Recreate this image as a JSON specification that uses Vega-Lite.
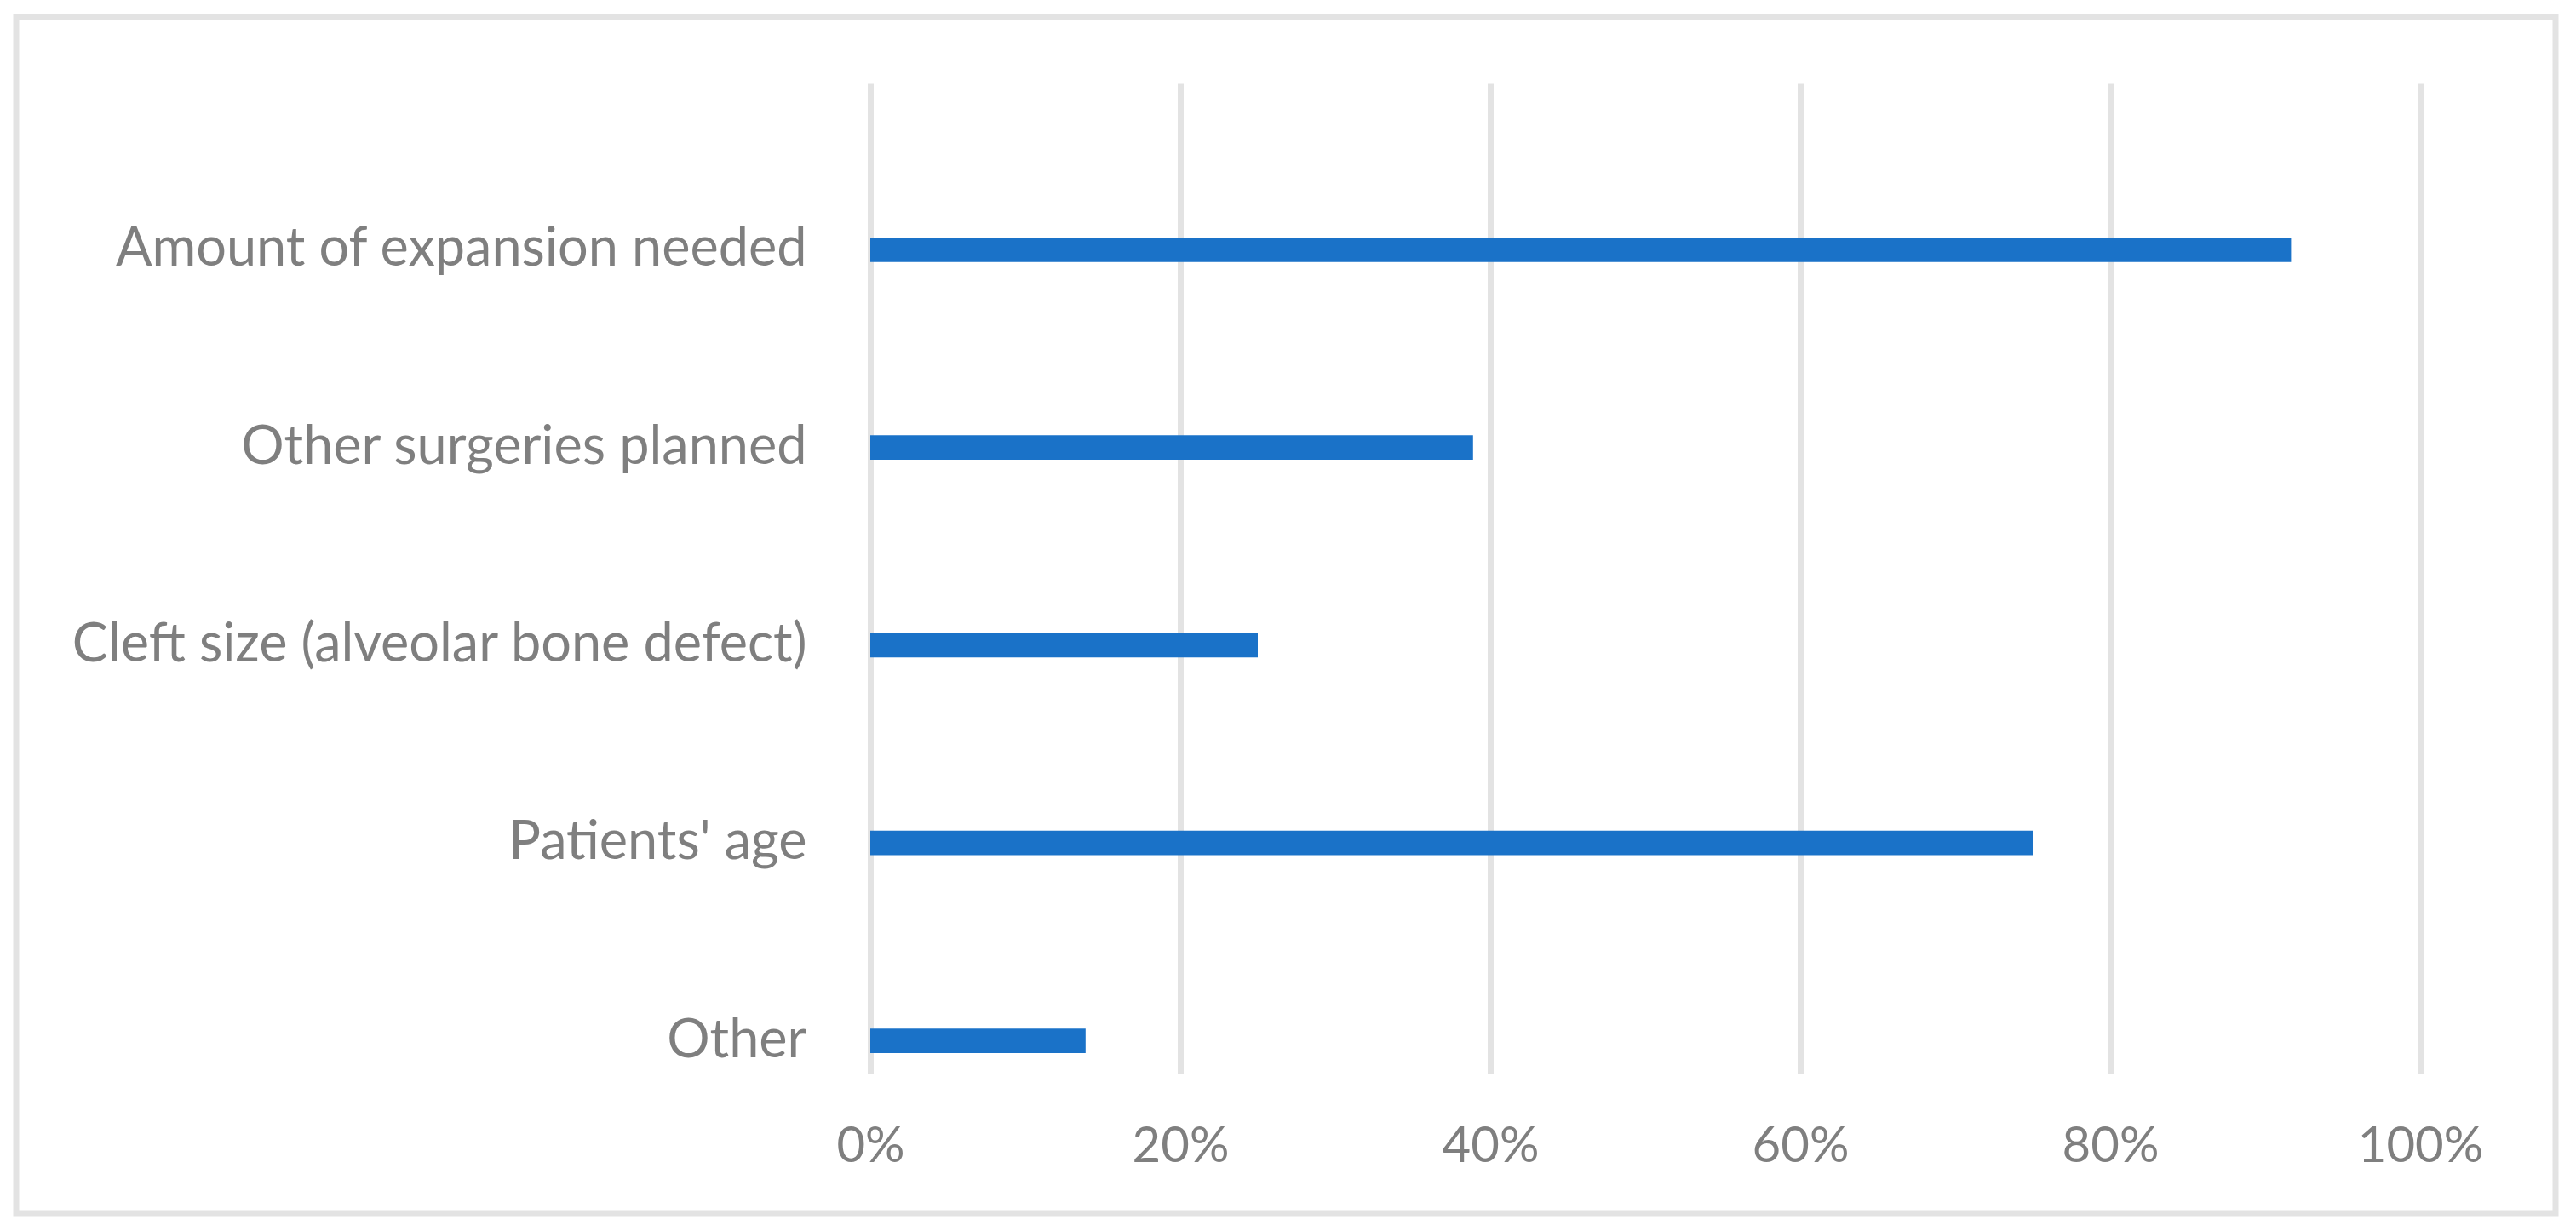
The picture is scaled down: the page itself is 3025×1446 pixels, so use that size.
{
  "$schema": "https://vega.github.io/schema/vega-lite/v6.json",
  "autosize": "none",
  "width": 2982,
  "height": 1405,
  "padding": {"left": 19, "top": 20, "right": 24, "bottom": 21},
  "background": "white",
  "config": {
    "view": {"stroke": "#e3e3e3", "strokeWidth": 7},
    "font": "Lato"
  },
  "data": {
    "values": [
      {"factor": "Amount of expansion needed", "share": 0.9167},
      {"factor": "Other surgeries planned", "share": 0.3889},
      {"factor": "Cleft size (alveolar bone defect)", "share": 0.25},
      {"factor": "Patients' age", "share": 0.75},
      {"factor": "Other", "share": 0.1389}
    ]
  },
  "mark": {"type": "bar", "color": "#1a72c8"},
  "encoding": {
    "y": {
      "field": "factor",
      "type": "nominal",
      "sort": ["Other", "Patients' age", "Cleft size (alveolar bone defect)", "Other surgeries planned", "Amount of expansion needed"],
      "title": null,
      "scale": {
        "range": [1327, 164],
        "paddingInner": 0.8764,
        "paddingOuter": 0.4413,
        "align": 0.463,
        "round": false
      },
      "axis": {
        "orient": "left",
        "offset": -928,
        "domain": false,
        "ticks": false,
        "tickSize": 0,
        "grid": false,
        "labelPadding": 0,
        "labelFontSize": 63,
        "labelColor": "#7f7f7f",
        "labelLimit": 1500,
        "labelBaseline": "middle"
      }
    },
    "x": {
      "field": "share",
      "type": "quantitative",
      "title": null,
      "scale": {"domain": [0, 1], "range": [1003, 2823], "nice": false, "zero": false},
      "axis": {
        "orient": "bottom",
        "offset": -61,
        "values": [0, 0.2, 0.4, 0.6, 0.8, 1],
        "format": ".0%",
        "domain": false,
        "ticks": false,
        "tickSize": 0,
        "grid": true,
        "gridColor": "#e3e3e3",
        "gridWidth": 7,
        "labelPadding": 0,
        "labelFontSize": 58,
        "labelColor": "#7f7f7f",
        "labelBaseline": "alphabetic",
        "labelFlush": false
      }
    }
  }
}
